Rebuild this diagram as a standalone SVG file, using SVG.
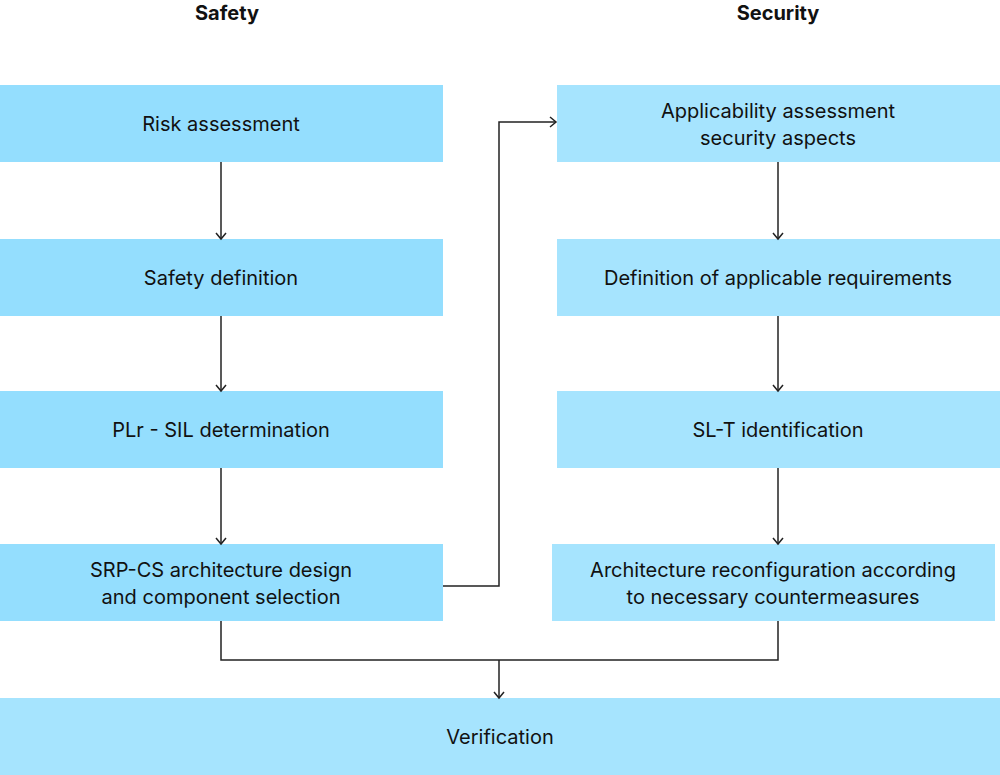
<svg xmlns="http://www.w3.org/2000/svg" width="1000" height="775" viewBox="0 0 1000 775">
<style>
text{font-family:Inter,"Liberation Sans",sans-serif;font-size:20px;fill:#111;text-anchor:middle}
.h{font-weight:bold}
.l{fill:#94defe}.r{fill:#a6e4fe}
.c{fill:none;stroke:#222;stroke-width:1.5}
</style>
<defs><marker id="a" markerWidth="12" markerHeight="12" refX="10" refY="6" orient="auto" markerUnits="userSpaceOnUse"><path d="M4,1 L10,6 L4,11" fill="none" stroke="#222" stroke-width="1.5"/></marker></defs>
<text class="h" x="227" y="20">Safety</text>
<text class="h" x="778" y="20">Security</text>
<g id="n1"><rect class="l" x="0" y="85" width="443" height="77"/><text x="221" y="131">Risk assessment</text></g>
<g id="n2"><rect class="l" x="0" y="239" width="443" height="77"/><text x="221" y="285">Safety definition</text></g>
<g id="n3"><rect class="l" x="0" y="391" width="443" height="77"/><text x="221" y="437">PLr - SIL determination</text></g>
<g id="n4"><rect class="l" x="0" y="544" width="443" height="77"/><text x="221" y="577">SRP-CS architecture design</text><text x="221" y="604">and component selection</text></g>
<g id="n5"><rect class="r" x="557" y="85" width="443" height="77"/><text x="778" y="118">Applicability assessment</text><text x="778" y="145">security aspects</text></g>
<g id="n6"><rect class="r" x="557" y="239" width="443" height="77"/><text x="778" y="285">Definition of applicable requirements</text></g>
<g id="n7"><rect class="r" x="557" y="391" width="443" height="77"/><text x="778" y="437">SL-T identification</text></g>
<g id="n8"><rect class="r" x="552" y="544" width="443" height="77"/><text x="773" y="577">Architecture reconfiguration according</text><text x="773" y="604">to necessary countermeasures</text></g>
<g id="n9"><rect class="r" x="0" y="698" width="1000" height="77"/><text x="500" y="744">Verification</text></g>
<g id="connectors">
<path class="c" d="M221,162V239" marker-end="url(#a)"/>
<path class="c" d="M221,316V391" marker-end="url(#a)"/>
<path class="c" d="M221,468V544" marker-end="url(#a)"/>
<path class="c" d="M778,162V239" marker-end="url(#a)"/>
<path class="c" d="M778,316V391" marker-end="url(#a)"/>
<path class="c" d="M778,468V544" marker-end="url(#a)"/>
<path class="c" d="M443,586H499V122H556" marker-end="url(#a)"/>
<path class="c" d="M221,621V660H778V621"/>
<path class="c" d="M499,660V698" marker-end="url(#a)"/>
</g>
</svg>
